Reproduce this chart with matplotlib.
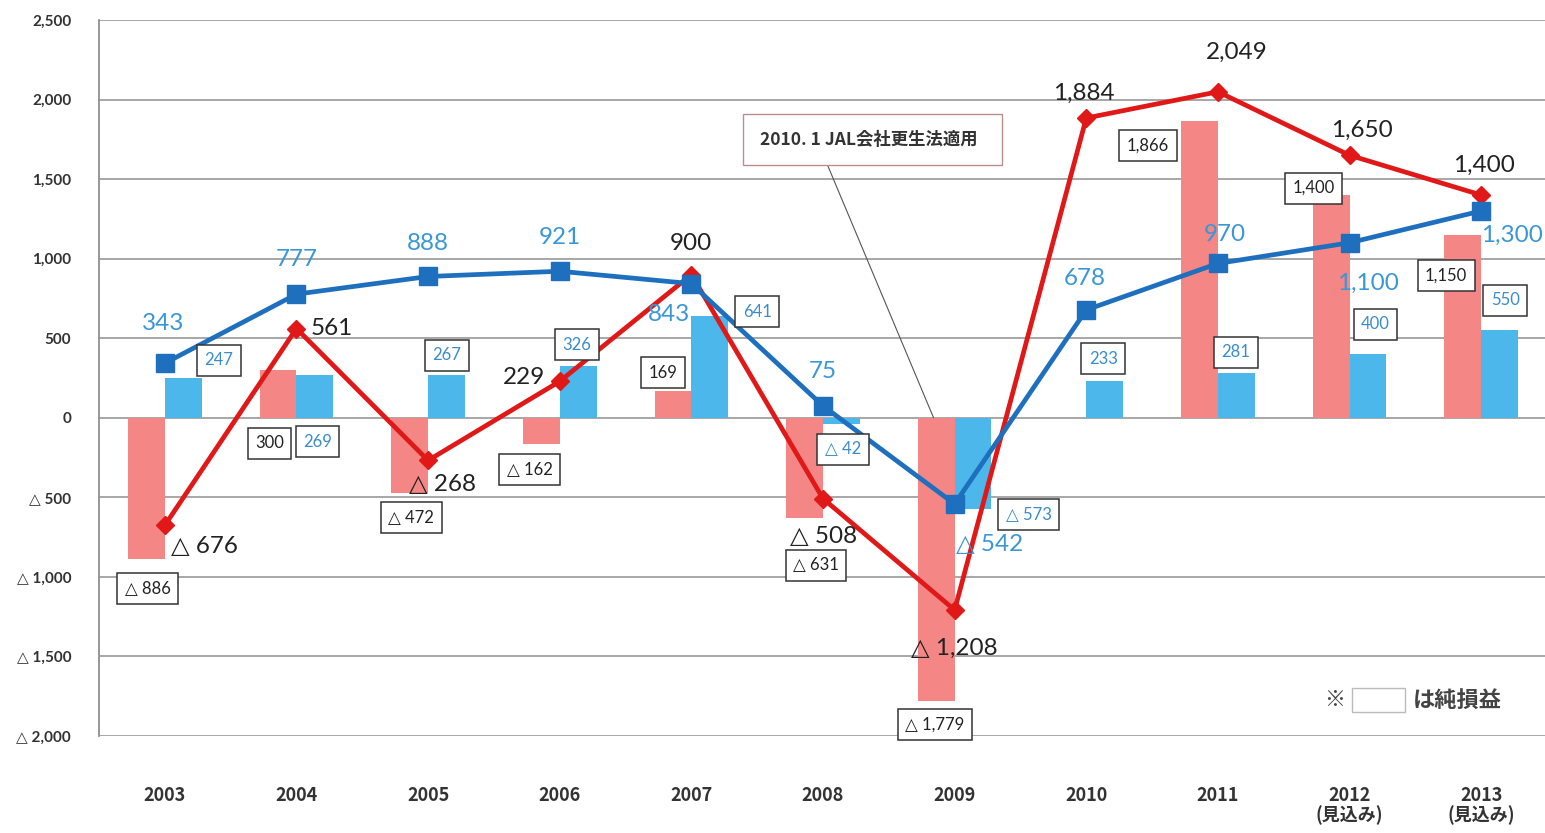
import numpy as np
import matplotlib
matplotlib.use('Agg')
import matplotlib.pyplot as plt
from matplotlib.patches import Rectangle

# データ（億円）
years = ['2003', '2004', '2005', '2006', '2007', '2008', '2009', '2010', '2011',
         '2012\n(見込み)', '2013\n(見込み)']
jal_op = [-676, 561, -268, 229, 900, -508, -1208, 1884, 2049, 1650, 1400]
jal_net = [-886, 300, -472, -162, 169, -631, -1779, np.nan, 1866, 1400, 1150]
ana_op = [343, 777, 888, 921, 843, 75, -542, 678, 970, 1100, 1300]
ana_net = [247, 269, 267, 326, 641, -42, -573, 233, 281, 400, 550]
yticks = [2500, 2000, 1500, 1000, 500, 0, -500, -1000, -1500, -2000]

# ラベル位置（点からのピクセルオフセット）
jal_op_off = [(40, -21), (35, 0), (14, -24), (-36, 4), (0, 31), (1, -38), (0, -38),
              (-2, 25), (19, 39), (12, 25), (3, 30)]
ana_op_off = [(-2, 40), (0, 35), (0, 33), (0, 34), (-22, -31), (0, 34), (35, -40),
              (-2, 31), (7, 29), (18, -41), (31, -24)]
jal_net_off = [(-17, -30), (-27, -73), (-17, -25), (-30, -26), (-28, 18), (-7, -47),
               (-20, -24), None, (-70, -25), (-36, 7), (-35, -41)]
ana_net_off = [(54, 18), (21, -67), (19, 20), (17, 21), (66, 4), (20, -25), (74, -6),
               (17, 22), (18, 21), (26, 30), (24, 30)]

plt.rcParams['font.family'] = ['Noto Sans CJK JP', 'DejaVu Sans']
NUM_FONT = ['Lato', 'DejaVu Sans']


def fmt(v):
    return f'{v:,.0f}' if v >= 0 else f'△ {-v:,.0f}'


fig = plt.figure(figsize=(15.45, 8.33), dpi=100)
ax = fig.add_axes([99 / 1545, 1 - 736 / 833, 1448 / 1545, 716 / 833])

x = np.arange(len(years))
w = 0.28
ax.bar(x - w / 2, jal_net, w, color='#f58686', zorder=2)
ax.bar(x + w / 2, ana_net, w, color='#4cb7ea', zorder=2)
ax.plot(x, jal_op, color='#e01818', lw=3.4, marker='D', ms=9, zorder=3)
ax.plot(x, ana_op, color='#1e6fbd', lw=3.4, marker='s', ms=13, zorder=4)

# 営業損益ラベル
for i, v in enumerate(jal_op):
    ax.annotate(fmt(v), (i, v), xytext=jal_op_off[i], textcoords='offset pixels',
                ha='center', va='center', fontsize=17.5, color='#222222',
                family=NUM_FONT, zorder=6)
for i, v in enumerate(ana_op):
    ax.annotate(fmt(v), (i, v), xytext=ana_op_off[i], textcoords='offset pixels',
                ha='center', va='center', fontsize=17.5, color='#3a97d6',
                family=NUM_FONT, zorder=6)

# 純損益ラベル（枠付き）
box = dict(boxstyle='square,pad=0.45', fc='white', ec='#333333', lw=1.1)
for i, v in enumerate(jal_net):
    if jal_net_off[i] is None or np.isnan(v):
        continue
    ax.annotate(fmt(v), (i, v), xytext=jal_net_off[i], textcoords='offset pixels',
                ha='center', va='center', fontsize=12, color='#222222',
                family=NUM_FONT, bbox=box, zorder=7)
for i, v in enumerate(ana_net):
    ax.annotate(fmt(v), (i, v), xytext=ana_net_off[i], textcoords='offset pixels',
                ha='center', va='center', fontsize=12, color='#3a8ccc',
                family=NUM_FONT, bbox=box, zorder=7)

# 会社更生法の注記
ax.annotate('2010. 1 JAL会社更生法適用  ', (5.84, 0), xytext=(-61, 278),
            textcoords='offset pixels', ha='center', va='center',
            fontsize=12.5, fontweight='bold', color='#333333', zorder=8,
            bbox=dict(boxstyle='square,pad=0.95', fc='white', ec='#b89090', lw=1),
            arrowprops=dict(arrowstyle='-', color='#555555', lw=0.8,
                            relpos=(0.27, 0), shrinkA=0, shrinkB=0))

# ※ □ は純損益
ax.text(0.8536, 0.05, '※', transform=ax.transAxes, ha='center', va='center',
        fontsize=15, color='#444444')
ax.add_patch(Rectangle((0.8653, 0.0335), 0.0366, 0.0335, transform=ax.transAxes,
                       fc='white', ec='#bbbbbb', lw=1, zorder=5))
ax.text(0.9075, 0.05, 'は純損益', transform=ax.transAxes, ha='left', va='center',
        fontsize=16, fontweight='bold', color='#444444')

ax.set_xlim(-0.5, len(years) - 0.5)
ax.set_ylim(-2000, 2500)
ax.set_yticks(yticks)
ax.set_yticklabels([fmt(v) for v in yticks], fontsize=11, fontweight='bold',
                   color='#333333', family=['Lato', 'DejaVu Sans'])
ax.set_xticks(x)
ax.set_xticklabels(years, fontsize=13, fontweight='bold', color='#333333',
                   linespacing=1.05)
ax.tick_params(axis='x', length=0, pad=36)
ax.tick_params(axis='y', length=0, pad=20)
ax.grid(axis='y', color='#a0a0a0', lw=1.3, zorder=1)
ax.set_axisbelow(True)
for s in ['top', 'right', 'bottom']:
    ax.spines[s].set_visible(False)
ax.spines['left'].set_color('#909090')
ax.spines['left'].set_linewidth(1.3)

fig.savefig('out.png', dpi=100)
